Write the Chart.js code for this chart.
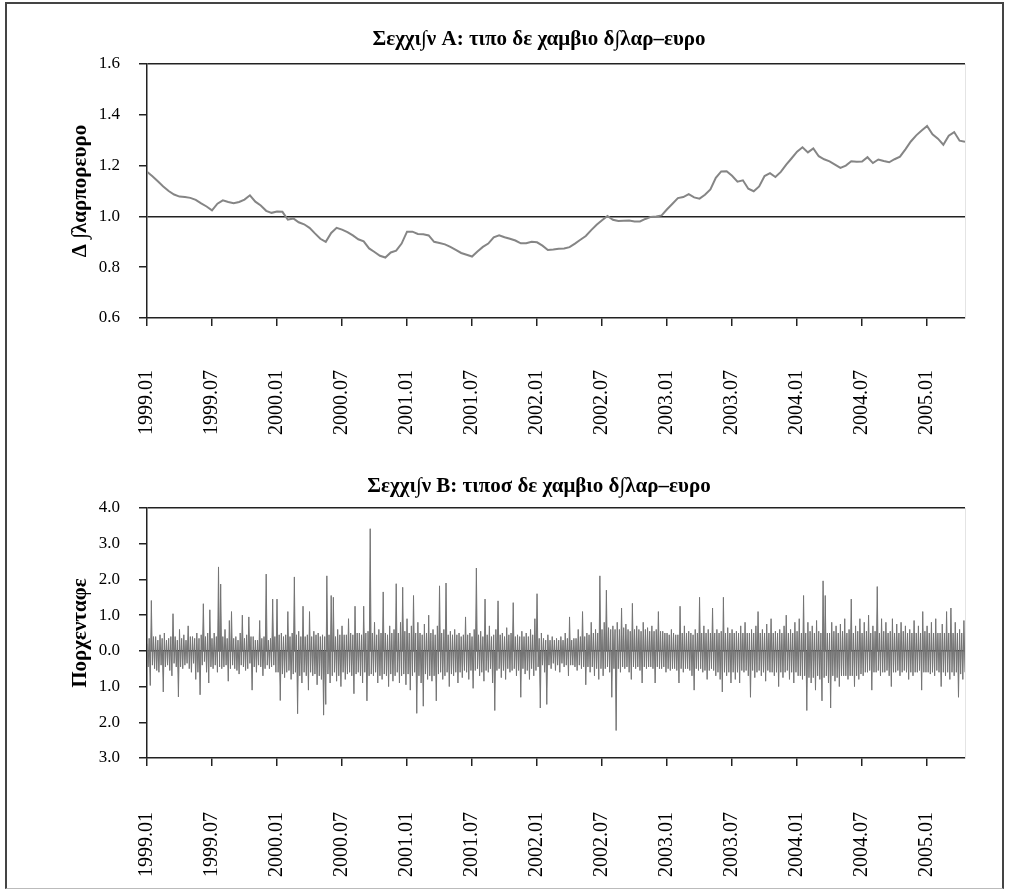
<!DOCTYPE html>
<html>
<head>
<meta charset="utf-8">
<script src="https://cdn.jsdelivr.net/npm/chart.js@4.4.0/dist/chart.umd.min.js"></script>
<style>
  body { margin: 0; background: #fff; }
  #frame { position: absolute; left: 5px; top: 2px; width: 995px; height: 884px; border: 2px solid #444; border-bottom: 1px solid #bbb; }
  canvas { position: absolute; }
</style>
</head>
<body>
<div id="frame"></div>
<canvas id="chartA" width="938" height="423" style="left:70px; top:20px"></canvas>
<canvas id="chartB" width="938" height="417" style="left:70px; top:466px"></canvas>
<script>
// months counted from 1999.01
const tickMonths = [0, 6, 12, 18, 24, 30, 36, 42, 48, 54, 60, 66, 72];
const tickLabels = ['1999.01', '1999.07', '2000.01', '2000.07', '2001.01', '2001.07', '2002.01',
  '2002.07', '2003.01', '2003.07', '2004.01', '2004.07', '2005.01'];
const lastMonth = 75.5;

const titleA = 'Σεχχι∫ν Α: τιπο δε χαμβιο δ∫λαρ–ευρο';
const titleB = 'Σεχχι∫ν Β: τιποσ δε χαμβιο δ∫λαρ–ευρο';
const yTitleA = 'Δ ∫λαρπορευρο';
const yTitleB = 'Πορχενταφε';

// dollars per euro, one reading every half month
const rateStep = 0.5;
const rateValues = [
  1.176, 1.158, 1.138, 1.118, 1.100, 1.086, 1.078, 1.076, 1.073, 1.065,
  1.051, 1.039, 1.024, 1.050, 1.063, 1.057, 1.052, 1.057, 1.066, 1.083,
  1.058, 1.043, 1.022, 1.014, 1.019, 1.018, 0.987, 0.992, 0.977, 0.969,
  0.955, 0.933, 0.912, 0.900, 0.935, 0.955, 0.948, 0.938, 0.925, 0.910,
  0.902, 0.874, 0.860, 0.845, 0.838, 0.858, 0.865, 0.893, 0.940, 0.940,
  0.931, 0.930, 0.925, 0.900, 0.895, 0.890, 0.880, 0.868, 0.856, 0.849,
  0.842, 0.862, 0.880, 0.893, 0.918, 0.926, 0.918, 0.912, 0.905, 0.894,
  0.894, 0.900, 0.898, 0.885, 0.868, 0.870, 0.873, 0.874, 0.879, 0.893,
  0.908, 0.923, 0.946, 0.967, 0.985, 1.002, 0.987, 0.982, 0.983, 0.984,
  0.980, 0.980, 0.990, 0.998, 1.000, 1.004, 1.028, 1.050, 1.072, 1.076,
  1.088, 1.075, 1.070, 1.085, 1.106, 1.152, 1.177, 1.178, 1.160, 1.137,
  1.142, 1.109, 1.099, 1.118, 1.159, 1.170, 1.155, 1.175, 1.204, 1.229,
  1.255, 1.272, 1.252, 1.268, 1.237, 1.225, 1.217, 1.204, 1.191, 1.200,
  1.217, 1.215, 1.216, 1.233, 1.210, 1.224, 1.218, 1.213, 1.225, 1.235,
  1.264, 1.295, 1.319, 1.338, 1.356, 1.323, 1.306, 1.282, 1.318, 1.332,
  1.298, 1.294
];

// percent change, one reading every 0.1 month (one row per half year)
const changeStep = 0.1;
const changeValues = [
  0.2, -0.45, 0.35, -0.97, 1.41, -0.4, 0.4, -0.5, 0.4, -0.55, 0.3, -0.6, 0.45, -0.4, 0.35, -1.15, 0.5, -0.45, 0.3, -0.4, 0.35, -0.55, 0.4, -0.7, 1.04, -0.35, 0.4, -0.45, 0.3, -1.29, 0.6, -0.45, 0.35, -0.5, 0.45, -0.4, 0.3, -0.35, 0.7, -0.5, 0.4, -0.6, 0.4, -0.35, 0.35, -0.8, 0.5, -0.6, 0.35, -1.23, 0.45, -0.4, 1.32, -0.3, 0.4, -0.6, 0.5, -0.9, 1.15, -0.45,
  0.35, -0.5, 0.5, -0.4, 0.4, -0.6, 2.35, -0.45, 1.87, -0.5, 0.4, -0.45, 0.6, -0.4, 0.35, -0.85, 0.85, -0.5, 1.1, -0.4, 0.35, -0.5, 0.4, -0.55, 0.3, -0.65, 0.5, -0.4, 1.0, -0.45, 0.35, -0.55, 0.45, -0.5, 0.95, -0.35, 0.4, -1.1, 0.4, -0.45, 0.3, -0.6, 0.3, -0.4, 0.85, -0.45, 0.35, -0.7, 0.4, -0.5, 2.15, -0.4, 0.3, -0.5, 0.35, -0.45, 1.45, -0.4, 0.4, -0.6,
  1.45, -0.6, 0.45, -1.39, 0.5, -0.65, 0.4, -0.75, 0.45, -0.6, 1.1, -0.55, 0.4, -0.8, 0.5, -0.65, 2.07, -0.6, 0.45, -1.76, 0.55, -0.7, 0.4, -0.9, 1.25, -0.6, 0.4, -0.7, 0.45, -1.1, 1.1, -0.6, 0.4, -0.7, 0.55, -0.65, 0.45, -0.95, 0.5, -0.7, 0.4, -0.8, 0.45, -1.8, 0.4, -1.5, 2.1, -0.65, 0.45, -0.9, 1.55, -0.7, 1.5, -0.6, 0.4, -0.85, 0.6, -0.7, 0.45, -1.0,
  0.7, -0.6, 0.45, -0.8, 0.45, -0.65, 0.9, -0.6, 0.5, -0.7, 0.45, -1.2, 1.25, -0.65, 0.5, -0.6, 0.5, -0.7, 0.45, -0.9, 1.25, -0.6, 0.5, -1.4, 0.55, -0.7, 3.42, -0.65, 0.5, -0.7, 0.8, -0.6, 0.45, -0.9, 0.6, -0.7, 0.5, -0.8, 1.65, -0.65, 0.5, -0.7, 0.45, -1.0, 0.7, -0.65, 0.5, -0.85, 0.6, -0.7, 1.88, -0.6, 0.5, -0.9, 0.8, -0.7, 1.78, -0.65, 0.55, -0.95,
  0.9, -0.65, 0.5, -1.1, 0.7, -0.7, 1.55, -0.6, 0.5, -1.75, 0.8, -0.7, 0.5, -0.9, 0.45, -1.55, 0.75, -0.65, 0.5, -0.8, 1.0, -0.7, 0.5, -0.85, 0.6, -0.7, 0.45, -1.4, 0.7, -0.65, 1.82, -0.6, 0.5, -0.8, 0.6, -0.7, 1.9, -0.6, 0.45, -1.0, 0.55, -0.65, 0.45, -0.7, 0.6, -0.6, 0.45, -0.9, 0.5, -0.6, 0.4, -0.75, 0.45, -0.55, 0.95, -0.6, 0.45, -0.8, 0.5, -0.55,
  0.4, -1.05, 0.6, -0.55, 2.32, -0.5, 0.45, -0.7, 0.55, -0.6, 0.4, -0.85, 1.45, -0.55, 0.45, -0.6, 0.7, -0.5, 0.4, -0.9, 0.45, -1.67, 0.6, -0.55, 1.4, -0.5, 0.45, -0.75, 0.5, -0.55, 0.4, -0.8, 0.65, -0.5, 0.45, -0.6, 0.5, -0.55, 1.35, -0.5, 0.4, -0.7, 0.45, -0.55, 0.4, -1.3, 0.55, -0.5, 0.4, -0.65, 0.5, -0.55, 0.4, -0.8, 0.6, -0.5, 0.45, -0.7, 0.9, -0.55,
  1.6, -0.45, 0.35, -1.6, 0.5, -0.4, 0.35, -0.6, 0.3, -1.5, 0.45, -0.4, 0.3, -0.5, 0.4, -0.35, 0.3, -0.55, 0.35, -0.4, 0.3, -0.6, 0.4, -0.35, 0.3, -0.45, 0.5, -0.4, 0.35, -0.7, 0.95, -0.4, 0.3, -0.4, 0.35, -0.45, 0.35, -0.55, 0.6, -0.4, 0.4, -0.5, 1.1, -0.45, 0.4, -0.95, 0.5, -0.45, 0.45, -0.6, 0.8, -0.45, 0.5, -0.7, 0.6, -0.5, 0.5, -0.8, 2.1, -0.5,
  0.6, -0.7, 0.8, -0.5, 1.7, -0.45, 0.65, -0.6, 0.6, -1.3, 0.7, -0.5, 0.6, -2.23, 0.8, -0.5, 0.6, -0.6, 1.2, -0.45, 0.65, -0.5, 0.75, -0.45, 0.6, -0.6, 0.55, -0.8, 1.33, -0.45, 0.6, -0.5, 0.7, -0.45, 0.6, -0.55, 0.55, -0.9, 0.8, -0.45, 0.6, -0.5, 0.65, -0.45, 0.55, -0.45, 0.7, -0.5, 0.55, -0.9, 0.6, -0.45, 1.1, -0.5, 0.55, -0.5, 0.55, -0.45, 0.5, -0.6,
  0.5, -0.5, 0.45, -0.55, 0.6, -0.5, 0.5, -0.5, 0.45, -0.55, 0.45, -0.9, 1.25, -0.5, 0.5, -0.6, 0.7, -0.5, 0.5, -0.5, 0.55, -0.55, 0.5, -0.7, 0.45, -1.1, 0.6, -0.5, 0.5, -0.55, 1.5, -0.5, 0.5, -0.6, 0.7, -0.55, 0.5, -0.8, 0.6, -0.55, 0.5, -0.5, 1.2, -0.55, 0.5, -0.7, 0.6, -0.6, 0.5, -0.8, 0.55, -1.15, 1.5, -0.6, 0.5, -0.7, 0.65, -0.6, 0.5, -0.9,
  0.6, -0.6, 0.5, -0.8, 0.55, -0.6, 0.5, -0.9, 0.7, -0.55, 0.5, -0.6, 0.8, -0.55, 0.5, -0.7, 0.5, -1.3, 0.6, -0.55, 0.5, -0.75, 0.7, -0.6, 1.1, -0.55, 0.5, -0.7, 0.6, -0.6, 0.5, -0.85, 0.75, -0.55, 0.5, -0.6, 0.9, -0.6, 0.5, -0.7, 0.55, -0.6, 0.5, -1.0, 0.6, -0.6, 0.5, -0.75, 0.7, -0.6, 1.0, -0.55, 0.5, -0.8, 0.6, -0.6, 0.5, -0.9, 0.8, -0.6,
  0.55, -0.7, 0.9, -0.7, 0.5, -0.8, 1.55, -0.7, 0.5, -1.67, 0.8, -0.75, 0.55, -0.9, 0.7, -0.75, 0.5, -1.1, 0.85, -0.7, 0.55, -0.8, 0.5, -1.4, 1.96, -0.75, 1.55, -0.7, 0.5, -0.9, 0.5, -1.6, 0.8, -0.7, 0.55, -0.85, 0.7, -0.75, 0.5, -1.0, 0.75, -0.7, 0.55, -0.7, 0.9, -0.7, 0.5, -0.8, 0.6, -0.7, 1.45, -0.7, 0.5, -1.0, 0.7, -0.7, 0.55, -0.8, 0.9, -0.65,
  0.5, -0.7, 0.8, -0.6, 0.55, -0.6, 1.0, -0.55, 0.5, -1.1, 0.7, -0.6, 0.55, -0.6, 1.8, -0.55, 0.5, -0.7, 0.9, -0.6, 0.55, -0.6, 0.8, -0.55, 0.5, -0.7, 0.55, -1.0, 0.9, -0.6, 0.5, -0.6, 0.75, -0.55, 0.5, -0.7, 0.8, -0.6, 0.55, -0.55, 0.7, -0.6, 0.5, -0.8, 0.6, -0.6, 0.5, -0.7, 0.85, -0.6, 0.5, -0.6, 0.7, -0.55, 0.5, -1.1, 1.1, -0.6, 0.55, -0.6,
  0.7, -0.6, 0.5, -0.65, 0.8, -0.6, 0.5, -0.7, 0.9, -0.55, 0.5, -0.6, 0.5, -1.0, 0.75, -0.6, 0.5, -0.7, 1.1, -0.6, 0.5, -0.8, 1.2, -0.6, 0.5, -0.7, 0.8, -0.6, 0.5, -1.3, 0.6, -0.65, 0.5, -0.8, 0.85, -0.6
];

Chart.defaults.font.family = "'Liberation Serif', 'Times New Roman', serif";
Chart.defaults.color = '#000';

const axisColor = '#222';

function xAxis(labelPad) {
  return {
    type: 'linear',
    min: 0,
    max: lastMonth,
    afterBuildTicks: s => { s.ticks = tickMonths.map(v => ({ value: v })); },
    afterFit: s => { s.height = 125; },
    grid: { drawOnChartArea: false, tickLength: 8, color: axisColor, lineWidth: 1.5 },
    border: { display: true, color: axisColor, width: 1.5 },
    ticks: {
      autoSkip: false, minRotation: 90, maxRotation: 90, padding: labelPad,
      font: { size: 20 },
      callback: (v, i) => tickLabels[i]
    }
  };
}

function yAxis(min, max, step, darkAt, fmt, title) {
  return {
    type: 'linear',
    min: min,
    max: max,
    afterFit: s => { s.width = 50; },
    ticks: { stepSize: step, padding: 19, font: { size: 17 }, callback: fmt },
    grid: {
      color: c => darkAt.some(d => Math.abs(c.tick.value - d) < 1e-6) ? axisColor : 'rgba(0,0,0,0)',
      tickColor: axisColor,
      tickLength: 8,
      lineWidth: 1.5
    },
    border: { display: true, color: axisColor, width: 1.5 },
    title: { display: true, text: title, font: { size: 21, weight: 'bold' }, padding: { top: -28.6, bottom: 0 } }
  };
}

// faint right edge of the plot
const rightEdge = {
  position: 'right',
  min: 0,
  max: 1,
  afterFit: s => { s.width = 16; },
  ticks: { display: false },
  grid: { display: false },
  border: { display: true, color: '#e4e4e4', width: 1 }
};

function baseOptions(title, titlePad) {
  return {
    responsive: false,
    animation: false,
    devicePixelRatio: 1,
    layout: { padding: { left: 27, right: 27 } },
    plugins: {
      legend: { display: false },
      tooltip: { enabled: false },
      title: { display: true, text: title, font: { size: 21, weight: 'bold' }, padding: titlePad }
    }
  };
}

const optsA = baseOptions(titleA, { top: 7.4, bottom: 11.4 });
optsA.scales = {
  x: xAxis(44),
  y: yAxis(0.6, 1.6, 0.2, [1.0, 1.6], v => v.toFixed(1), yTitleA),
  edge: rightEdge
};

new Chart(document.getElementById('chartA'), {
  type: 'line',
  data: {
    datasets: [{
      data: rateValues.map((v, i) => ({ x: i * rateStep, y: v })),
      borderColor: '#858585',
      borderWidth: 2,
      pointRadius: 0,
      tension: 0
    }]
  },
  options: optsA
});

const optsB = baseOptions(titleB, { top: 8.4, bottom: 8.4 });
optsB.scales = {
  x: xAxis(46),
  y: yAxis(-3, 4, 1, [0, 4], v => Math.abs(v).toFixed(1), yTitleB),
  edge: rightEdge
};

new Chart(document.getElementById('chartB'), {
  type: 'line',
  data: {
    datasets: [{
      data: changeValues.map((v, i) => ({ x: i * changeStep, y: v })),
      borderColor: '#747474',
      backgroundColor: '#747474',
      fill: 'origin',
      borderWidth: 1,
      pointRadius: 0,
      tension: 0
    }]
  },
  options: optsB
});
</script>
</body>
</html>
